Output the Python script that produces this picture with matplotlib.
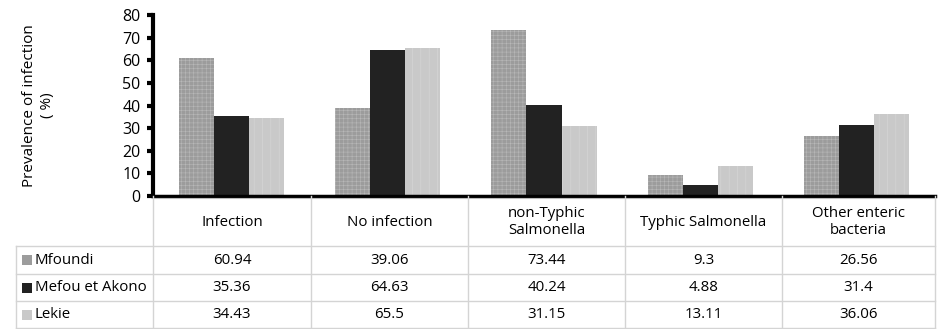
import numpy as np
import matplotlib.pyplot as plt

plt.rcParams['font.family'] = ['Open Sans', 'DejaVu Sans']
plt.rcParams['hatch.linewidth'] = 0.4

# Data
categories = ["Infection", "No infection", "non-Typhic\nSalmonella", "Typhic Salmonella", "Other enteric\nbacteria"]
series_names = ["Mfoundi", "Mefou et Akono", "Lekie"]
mfoundi = [60.94, 39.06, 73.44, 9.3, 26.56]
mefou = [35.36, 64.63, 40.24, 4.88, 31.4]
lekie = [34.43, 65.5, 31.15, 13.11, 36.06]
yticks = [0, 10, 20, 30, 40, 50, 60, 70, 80]

series = [mfoundi, mefou, lekie]
colors = ['#9c9c9c', '#222222', '#c9c9c9']
hatch_colors = ['#b8b8b8', '#222222', '#d8d8d8']
hatches = ['++++', None, '||']

W, H = 938, 329
fig = plt.figure(figsize=(W / 100, H / 100), dpi=100)

# bar chart area (pixel layout converted to figure fractions)
ax_l, ax_r, ax_t, ax_b = 153, 935, 15, 196
ax = fig.add_axes([ax_l / W, 1 - ax_b / H, (ax_r - ax_l) / W, (ax_b - ax_t) / H])

x = np.arange(len(categories))
bw = 0.224
for i, vals in enumerate(series):
    ax.bar(x + (i - 1) * bw, vals, width=bw, color=colors[i], hatch=hatches[i],
           edgecolor=hatch_colors[i], linewidth=0)

ax.set_xlim(-0.5, len(categories) - 0.5)
ax.set_ylim(0, 80)
ax.set_yticks(yticks)
ax.set_xticks([])
ax.tick_params(axis='y', direction='out', length=4, width=3, labelsize=11.5, pad=5)
for s in ['top', 'right']:
    ax.spines[s].set_visible(False)
ax.spines['left'].set_linewidth(3)
ax.spines['bottom'].set_linewidth(2.5)
ax.set_ylabel("Prevalence of infection\n( %)", fontsize=11, linespacing=1.3)
ax.yaxis.set_label_coords((55 - ax_l) / (ax_r - ax_l), 0.5)

# data table drawn below the axes
tax = fig.add_axes([0, 0, 1, 1])
tax.set_xlim(0, W)
tax.set_ylim(H, 0)
tax.axis('off')

col_edges = [16, 153, 311, 468, 625, 782, 935]
row_edges = [196, 246, 274, 301, 328]
grid_c = '#d4d4d4'

# header lines (no corner cell)
tax.plot([col_edges[1], col_edges[-1]], [row_edges[0] + 1.5] * 2, color='#bbbbbb', lw=0.8)
for r in row_edges[1:]:
    tax.plot([col_edges[0], col_edges[-1]], [r, r], color=grid_c, lw=1)
for j, c in enumerate(col_edges):
    top = row_edges[1] if j == 0 else row_edges[0]
    tax.plot([c, c], [top, row_edges[-1]], color=grid_c, lw=1)

for j, cat in enumerate(categories):
    cx = (col_edges[j + 1] + col_edges[j + 2]) / 2
    tax.text(cx, (row_edges[0] + row_edges[1]) / 2 + 1, cat, ha='center', va='center',
             fontsize=10.8, linespacing=1.25)

for i, name in enumerate(series_names):
    cy = (row_edges[i + 1] + row_edges[i + 2]) / 2
    tax.scatter([col_edges[0] + 11], [cy], marker='s', s=55, color=colors[i], linewidths=0)
    tax.text(col_edges[0] + 19, cy, name, ha='left', va='center', fontsize=10.8)
    for j, v in enumerate(series[i]):
        cx = (col_edges[j + 1] + col_edges[j + 2]) / 2
        tax.text(cx, cy, str(v), ha='center', va='center', fontsize=10.8)

fig.savefig("out.png", dpi=100)
